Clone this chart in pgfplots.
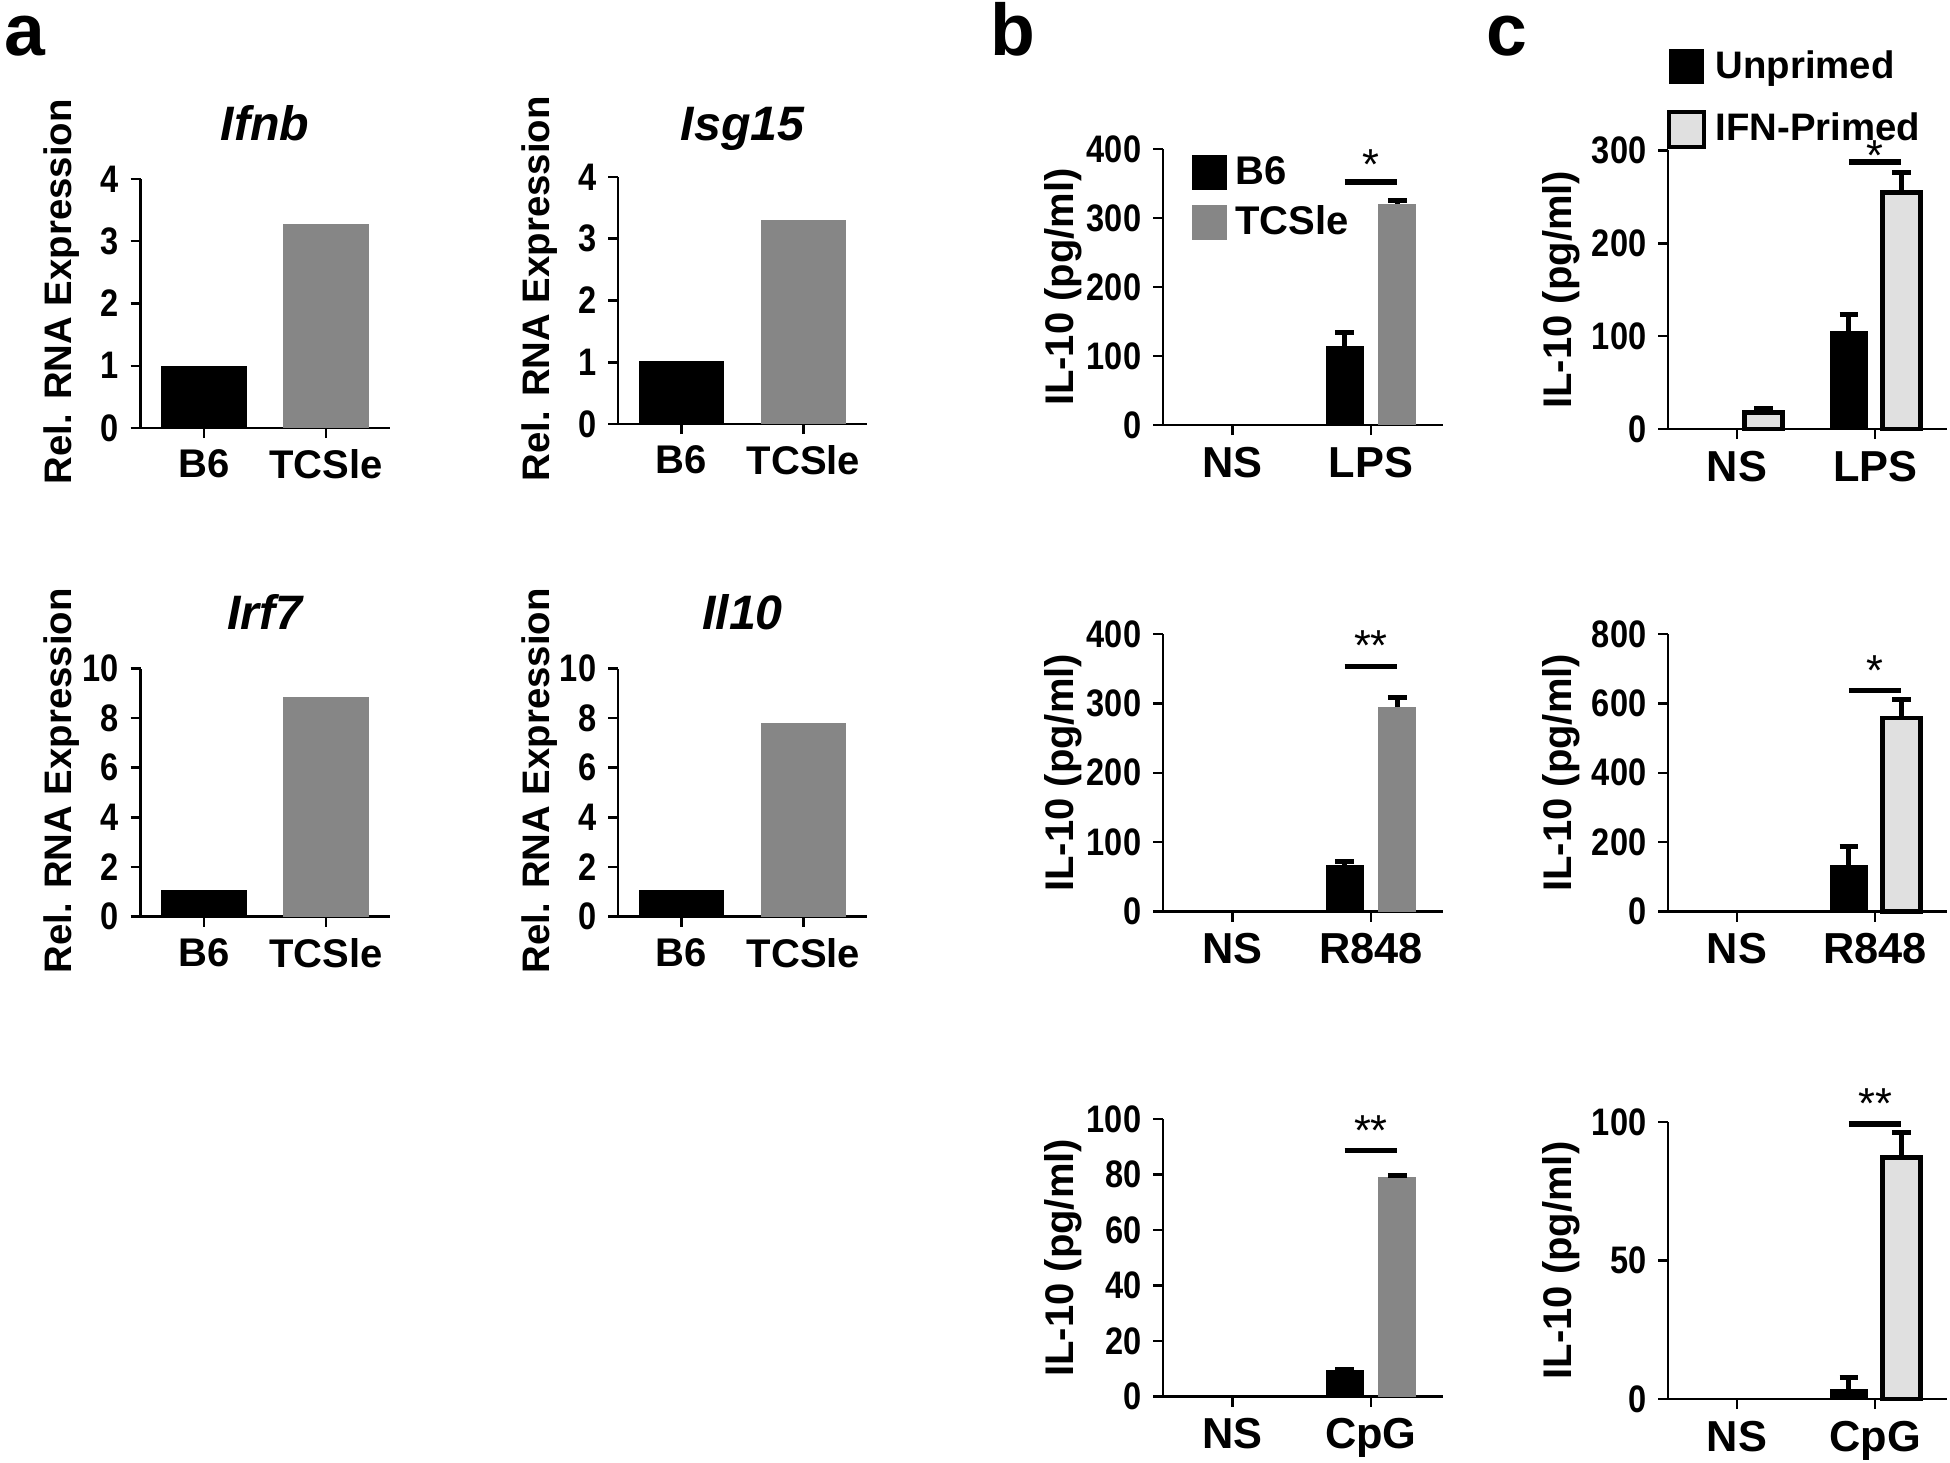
\documentclass[border=0pt]{standalone}
\usepackage{pgfplots}
\pgfplotsset{compat=1.18}
\usepackage{fontspec}
\setmainfont{Liberation Sans}
\setsansfont{Liberation Sans}
\newfontfamily\cond[FakeStretch=0.85]{Liberation Sans}
\definecolor{tcgray}{RGB}{134,134,134}
\definecolor{ifngray}{RGB}{224,224,224}
\newcommand{\fs}[1]{\fontsize{#1}{#1}\selectfont}
\tikzset{sigstar/.style={font=\fs{13}, inner sep=0pt}}

\pgfplotsset{
  gp/.style={
    scale only axis,
    axis lines=left,
    axis line style={-, line width=0.75pt},
    every tick/.style={black, line width=0.75pt},
    major tick length=3pt,
    tick align=outside,
    xtick={0,1},
    ymin=0,
    clip=false,
    /pgf/number format/assume math mode=true,
    yticklabel style={font=\cond\bfseries\fs{11.5}},
    xticklabel style={font=\bfseries\fs{13}},
    ylabel style={font=\bfseries\fs{12}, at={(axis description cs:0,0.5)}, anchor=center},
    scaled y ticks=false,
    legend image code/.code={\path[#1] (0pt,-5.25pt) rectangle (10.5pt,5.25pt);},
  },
  pa/.style={gp, width=74.7pt, xmin=-0.52, xmax=1.52, xticklabels={B6,TCSle},
    xticklabel style={font=\bfseries\fs{12}},
    ylabel={Rel. RNA Expression},
    ylabel style={font=\bfseries\fs{11.5}, yshift=23.6pt, xshift=3.5pt},
    title style={font=\bfseries\itshape\fs{14.5}, at={(axis description cs:0.5,1)}, anchor=base, yshift=5.6pt},
  },
  pb/.style={gp, width=84pt, xmin=-0.5, xmax=1.52,
    ylabel={IL-10 (pg/ml)},
    ylabel style={yshift=30pt},
  },
  pc/.style={gp, width=83.7pt, xmin=-0.5, xmax=1.52,
    ylabel={IL-10 (pg/ml)},
    ylabel style={yshift=32pt},
  },
  eb/.style={error bars/y dir=plus, error bars/y explicit,
    error bars/error bar style={line width=1.5pt, black},
    error bars/error mark options={rotate=90, line width=1.5pt, mark size=2.8pt, black}},
  bk/.style={ybar, bar width=0.274, bar shift=0, fill=black, draw=none, eb},
  tg/.style={ybar, bar width=0.274, bar shift=0, fill=tcgray, draw=none, eb},
  ig/.style={ybar, bar width=0.274, bar shift=0, fill=ifngray, draw=black, line width=1.4pt, eb},
  sig/.style={black, line width=1.7pt, forget plot},
}

\begin{document}
\begin{tikzpicture}
\useasboundingbox (0,0) rectangle (585pt,-438.6pt);

% panel letters
\node[anchor=base, font=\bfseries\fs{22}] at (7.5pt,-16.8pt) {a};
\node[anchor=base, font=\bfseries\fs{22}] at (303.9pt,-16.8pt) {b};
\node[anchor=base, font=\bfseries\fs{22}] at (452.1pt,-16.8pt) {c};

% ---------------- panel a ----------------
\begin{axis}[pa, at={(42.15pt,-128.4pt)}, anchor=south west, height=74.7pt,
  ymax=4, ytick={0,1,2,3,4}, title={Ifnb}]
\addplot[ybar, bar width=0.7, bar shift=0, fill=black, draw=none] coordinates {(0,1.0)};
\addplot[ybar, bar width=0.7, bar shift=0, fill=tcgray, draw=none] coordinates {(1,3.27)};
\end{axis}

\begin{axis}[pa, at={(185.4pt,-127.2pt)}, anchor=south west, height=74.1pt,
  ymax=4, ytick={0,1,2,3,4}, title={Isg15}, title style={yshift=-0.6pt}]
\addplot[ybar, bar width=0.7, bar shift=0, fill=black, draw=none] coordinates {(0,1.02)};
\addplot[ybar, bar width=0.7, bar shift=0, fill=tcgray, draw=none] coordinates {(1,3.3)};
\end{axis}

\begin{axis}[pa, at={(42.15pt,-274.95pt)}, anchor=south west, height=74.4pt,
  ymax=10, ytick={0,2,4,6,8,10}, title={Irf7}]
\addplot[ybar, bar width=0.7, bar shift=0, fill=black, draw=none] coordinates {(0,1.08)};
\addplot[ybar, bar width=0.7, bar shift=0, fill=tcgray, draw=none] coordinates {(1,8.85)};
\end{axis}

\begin{axis}[pa, at={(185.4pt,-274.95pt)}, anchor=south west, height=74.4pt,
  ymax=10, ytick={0,2,4,6,8,10}, title={Il10}]
\addplot[ybar, bar width=0.7, bar shift=0, fill=black, draw=none] coordinates {(0,1.08)};
\addplot[ybar, bar width=0.7, bar shift=0, fill=tcgray, draw=none] coordinates {(1,7.8)};
\end{axis}

% ---------------- panel b ----------------
\begin{axis}[pb, at={(348.9pt,-127.5pt)}, anchor=south west, height=82.8pt,
  ymax=400, ytick={0,100,200,300,400}, xticklabels={NS,LPS},
  legend style={draw=none, fill=none, at={(axis description cs:0,1)}, anchor=north west,
    xshift=8.4pt, yshift=0pt, font=\bfseries\fs{12}, inner sep=0pt, row sep=1pt,
    nodes={inner xsep=2.6pt}},
  legend cell align=left]
\addlegendimage{fill=black, draw=none}\addlegendentry{B6}
\addlegendimage{fill=tcgray, draw=none}\addlegendentry{TCSle}
\addplot[forget plot, bk] coordinates {(0.81,114.7) +- (0,19.3)};
\addplot[forget plot, tg] coordinates {(1.19,320.5) +- (0,4.5)};
\addplot[sig] coordinates {(0.81,352) (1.19,352)};
\node[sigstar] at (axis cs:1,378) {*};
\end{axis}

\begin{axis}[pb, at={(348.9pt,-273.45pt)}, anchor=south west, height=83.25pt,
  ymax=400, ytick={0,100,200,300,400}, xticklabels={NS,R848}]
\addplot[bk] coordinates {(0.81,67) +- (0,5.8)};
\addplot[tg] coordinates {(1.19,294.6) +- (0,14.4)};
\addplot[sig] coordinates {(0.81,353) (1.19,353)};
\node[sigstar] at (axis cs:1,383) {**};
\end{axis}

\begin{axis}[pb, at={(348.9pt,-418.95pt)}, anchor=south west, height=83.25pt,
  ymax=100, ytick={0,20,40,60,80,100}, xticklabels={NS,CpG}]
\addplot[bk] coordinates {(0.81,9.6) +- (0,0)};
\addplot[tg] coordinates {(1.19,79) +- (0,0.6)};
\addplot[sig] coordinates {(0.81,88.6) (1.19,88.6)};
\node[sigstar] at (axis cs:1,95.7) {**};
\end{axis}

% ---------------- panel c ----------------
\begin{axis}[pc, at={(500.4pt,-128.7pt)}, anchor=south west, height=83.55pt,
  ymax=300, ytick={0,100,200,300}, xticklabels={NS,LPS},
  legend style={draw=none, fill=none, at={(axis description cs:0,1)}, anchor=north west,
    xshift=-0.6pt, yshift=30.7pt, font=\bfseries\fs{11.5}, inner sep=0pt, row sep=7.45pt,
    nodes={inner xsep=2.8pt, inner ysep=0.5pt}},
  legend cell align=left]
\addlegendimage{fill=black, draw=none}\addlegendentry{Unprimed}
\addlegendimage{fill=ifngray, draw=black, line width=1.4pt}\addlegendentry{IFN-Primed}
\addplot[forget plot, bk] coordinates {(0.81,105.3) +- (0,18)};
\addplot[forget plot, ig] coordinates {(0.19,17.7) +- (0,4.7) (1.19,255) +- (0,21)};
\addplot[sig] coordinates {(0.81,287.4) (1.19,287.4)};
\node[sigstar] at (axis cs:1,295) {*};
\end{axis}

\begin{axis}[pc, at={(500.4pt,-273.45pt)}, anchor=south west, height=83.25pt,
  ymax=800, ytick={0,200,400,600,800}, xticklabels={NS,R848}]
\addplot[bk] coordinates {(0.81,134) +- (0,53)};
\addplot[ig] coordinates {(1.19,558) +- (0,53)};
\addplot[sig] coordinates {(0.81,637) (1.19,637)};
\node[sigstar] at (axis cs:1,695) {*};
\end{axis}

\begin{axis}[pc, at={(500.4pt,-419.7pt)}, anchor=south west, height=83.1pt,
  ymax=100, ytick={0,50,100}, xticklabels={NS,CpG}]
\addplot[bk] coordinates {(0.81,3.7) +- (0,4.1)};
\addplot[ig] coordinates {(1.19,87.2) +- (0,9)};
\addplot[sig] coordinates {(0.81,99.4) (1.19,99.4)};
\node[sigstar] at (axis cs:1,106.6) {**};
\end{axis}

\end{tikzpicture}
\end{document}
